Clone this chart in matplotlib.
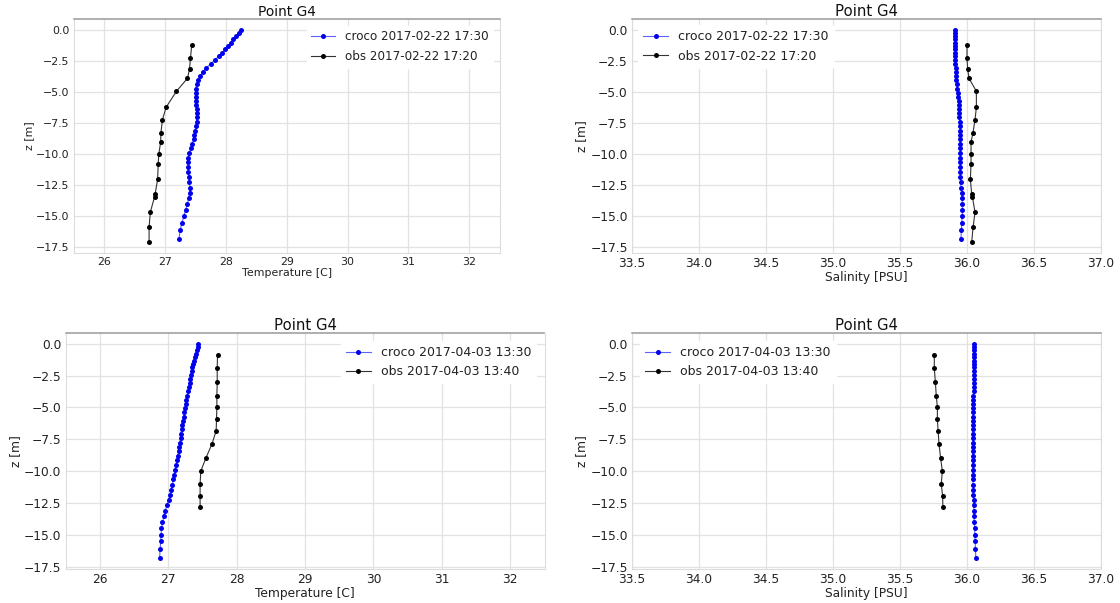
import matplotlib
matplotlib.use("Agg")
import matplotlib.pyplot as plt

plt.rcParams['font.family'] = ['DejaVu Sans']

# ---------------- data ----------------
z_croco = [0.0, -0.26, -0.53, -0.79, -1.05, -1.32, -1.58, -1.84, -2.11, -2.45,
           -2.76, -3.11, -3.42, -3.74, -4.08, -4.40, -4.74, -5.08, -5.40, -5.74,
           -6.06, -6.40, -6.71, -7.06, -7.42, -7.77, -8.11, -8.45, -8.82, -9.16,
           -9.53, -9.93, -10.29, -10.66, -11.06, -11.45, -11.85, -12.24, -12.69, -13.11,
           -13.56, -14.03, -14.51, -15.01, -15.53, -16.14, -16.85]

# 2017-02-22
temp_croco_feb = [28.25, 28.21, 28.17, 28.12, 28.08, 28.04, 27.99, 27.94, 27.89, 27.82,
                  27.75, 27.67, 27.62, 27.58, 27.55, 27.52, 27.51, 27.51, 27.51, 27.51,
                  27.515, 27.52, 27.52, 27.52, 27.52, 27.515, 27.50, 27.485, 27.47, 27.45,
                  27.425, 27.40, 27.385, 27.38, 27.38, 27.385, 27.39, 27.40, 27.41, 27.405,
                  27.39, 27.37, 27.34, 27.31, 27.28, 27.25, 27.23]
sal_croco_feb = [35.91, 35.91, 35.91, 35.91, 35.91, 35.911, 35.912, 35.912, 35.912, 35.913,
                 35.914, 35.915, 35.916, 35.917, 35.919, 35.922, 35.926, 35.931, 35.934, 35.937,
                 35.939, 35.941, 35.943, 35.944, 35.945, 35.946, 35.947, 35.947, 35.948, 35.948,
                 35.949, 35.949, 35.949, 35.949, 35.950, 35.950, 35.951, 35.952, 35.955, 35.959,
                 35.964, 35.966, 35.966, 35.964, 35.961, 35.958, 35.955]
z_obs_feb = [-1.24, -2.31, -3.15, -3.92, -4.95, -6.24, -7.23, -8.28, -9.03, -10.0,
             -10.8, -12.04, -13.2, -13.44, -14.68, -15.9, -17.1]
temp_obs_feb = [27.44, 27.42, 27.405, 27.37, 27.19, 27.02, 26.96, 26.935, 26.93, 26.90,
                26.89, 26.88, 26.84, 26.83, 26.76, 26.74, 26.74]
sal_obs_feb = [36.00, 36.00, 36.005, 36.015, 36.07, 36.07, 36.06, 36.045, 36.03, 36.03,
               36.03, 36.025, 36.035, 36.04, 36.06, 36.045, 36.035]

# 2017-04-03
temp_croco_apr = [27.44, 27.43, 27.415, 27.40, 27.385, 27.375, 27.365, 27.35, 27.34, 27.33,
                  27.32, 27.31, 27.30, 27.29, 27.28, 27.265, 27.255, 27.245, 27.235, 27.225,
                  27.21, 27.20, 27.195, 27.185, 27.18, 27.17, 27.16, 27.15, 27.14, 27.13,
                  27.117, 27.10, 27.09, 27.075, 27.06, 27.045, 27.025, 27.005, 26.98, 26.955,
                  26.935, 26.915, 26.90, 26.895, 26.89, 26.88, 26.873]
sal_croco_apr = [36.055, 36.055, 36.054, 36.054, 36.053, 36.053, 36.052, 36.052, 36.051, 36.051,
                 36.050, 36.050, 36.049, 36.049, 36.048, 36.048, 36.047, 36.047, 36.046, 36.046,
                 36.045, 36.045, 36.044, 36.044, 36.043, 36.043, 36.043, 36.043, 36.043, 36.043,
                 36.043, 36.044, 36.044, 36.045, 36.046, 36.047, 36.048, 36.049, 36.050, 36.052,
                 36.053, 36.055, 36.057, 36.059, 36.061, 36.063, 36.066]
z_obs_apr = [-0.88, -1.92, -3.03, -4.14, -4.97, -5.90, -6.83, -7.85, -8.98, -10.0,
             -11.0, -11.95, -12.8]
temp_obs_apr = [27.72, 27.715, 27.715, 27.71, 27.71, 27.705, 27.70, 27.64, 27.55, 27.475,
                27.465, 27.465, 27.465]
sal_obs_apr = [35.756, 35.756, 35.764, 35.771, 35.779, 35.779, 35.784, 35.791, 35.803, 35.816,
               35.808, 35.818, 35.820]

labels_feb = ["croco 2017-02-22 17:30", "obs 2017-02-22 17:20"]
labels_apr = ["croco 2017-04-03 13:30", "obs 2017-04-03 13:40"]
title = "Point G4"
temp_xlabel = "Temperature [C]"
sal_xlabel = "Salinity [PSU]"
ylabel = "z [m]"
temp_xlim = (25.5, 32.5)
sal_xlim = (33.5, 37.0)

# ---------------- figure ----------------
W, H = 1120, 603
fig = plt.figure(figsize=(W / 100, H / 100), dpi=100)


def px_axes(x0, x1, y0, y1):
    return fig.add_axes([x0 / W, 1 - y1 / H, (x1 - x0) / W, (y1 - y0) / H])


def style_panel(ax, xlabel, xlim, legend_loc, labels, xcro, zc, xobs, zo,
                tick_fs=8.8, title_fs=10.7, leg_fs=9.0, bpad=0.5, lspace=0.5):
    ax.set_facecolor('white')
    ax.grid(True, color='#e2e2e2', lw=0.9)
    ax.set_axisbelow(True)
    for side in ['left', 'right', 'bottom']:
        ax.spines[side].set_color('#dcdcdc')
        ax.spines[side].set_linewidth(0.8)
    ax.spines['top'].set_color('#9a9a9a')
    ax.spines['top'].set_linewidth(1.1)
    ax.tick_params(length=0, pad=3.0, labelsize=tick_fs, colors='#222222')
    ax.plot(xcro, zc, color='#6060ff', lw=0.8, marker='o', ms=3.6,
            mfc='#0000ee', mec='#0000ee', mew=0, label=labels[0])
    ax.plot(xobs, zo, color='#333333', lw=0.8, marker='o', ms=3.6,
            mfc='black', mec='black', mew=0, label=labels[1])
    ax.set_xlim(*xlim)
    ax.set_title(title, fontsize=title_fs, pad=2.5, color='#111111')
    ax.set_xlabel(xlabel, fontsize=tick_fs, labelpad=0.5, color='#222222')
    ax.set_ylabel(ylabel, fontsize=tick_fs, labelpad=1.5, color='#222222')
    leg = ax.legend(loc=legend_loc, fontsize=leg_fs, frameon=True,
                    facecolor='white', edgecolor='white', framealpha=1.0,
                    borderaxespad=bpad, labelspacing=lspace)
    for t in leg.get_texts():
        t.set_color('#222222')


ax1 = px_axes(73.6, 499.7, 19, 253)
style_panel(ax1, temp_xlabel, temp_xlim, 'upper right', labels_feb,
            temp_croco_feb, z_croco, temp_obs_feb, z_obs_feb,
            tick_fs=7.9, title_fs=9.9, leg_fs=8.6, bpad=0.55, lspace=0.55)

ax2 = px_axes(632, 1101, 19, 253)
style_panel(ax2, sal_xlabel, sal_xlim, 'upper left', labels_feb,
            sal_croco_feb, z_croco, sal_obs_feb, z_obs_feb)

ax3 = px_axes(65.7, 544.5, 333, 569)
style_panel(ax3, temp_xlabel, temp_xlim, 'upper right', labels_apr,
            temp_croco_apr, z_croco, temp_obs_apr, z_obs_apr, bpad=0.65)

ax4 = px_axes(632, 1101, 333, 569)
style_panel(ax4, sal_xlabel, sal_xlim, 'upper left', labels_apr,
            sal_croco_apr, z_croco, sal_obs_apr, z_obs_apr, bpad=0.65)

fig.savefig("out.png", dpi=100, facecolor='white')
